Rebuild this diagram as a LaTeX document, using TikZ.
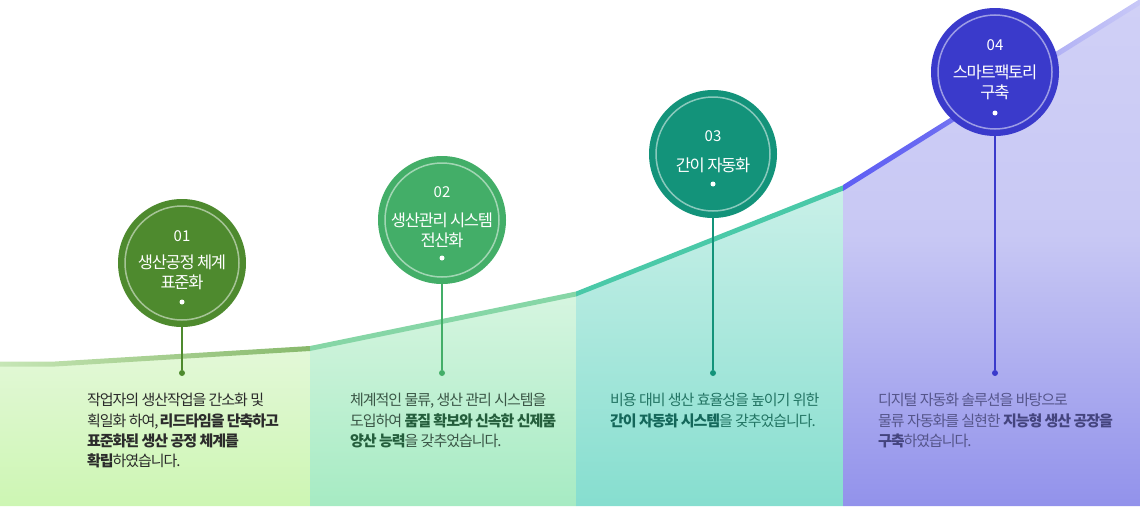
\documentclass[tikz,border=0pt]{standalone}
\usepackage{fontspec}
\setmainfont{Noto Sans CJK KR}[LetterSpace=-7]
\newfontfamily\numfont{Noto Sans CJK KR}
\newfontfamily\ttlfont{Noto Sans CJK KR}[LetterSpace=-8]
\definecolor{c1}{HTML}{4E8A2E}
\definecolor{c2}{HTML}{43AE68}
\definecolor{c3}{HTML}{13937A}
\definecolor{c4}{HTML}{3A3ACB}
\definecolor{s1t}{HTML}{E3F8D8}
\definecolor{s1b}{HTML}{CDF6B3}
\definecolor{s2t}{HTML}{D6F5E0}
\definecolor{s2b}{HTML}{A6EBC3}
\definecolor{s3t}{HTML}{C9F0E8}
\definecolor{s3b}{HTML}{86DECF}
\definecolor{s4t}{HTML}{D0D0F6}
\definecolor{s4m}{HTML}{C8C8F4}
\definecolor{s4b}{HTML}{9292EB}
\definecolor{l1a}{HTML}{C6E6B6}
\definecolor{l1b}{HTML}{88B96C}
\definecolor{l2}{HTML}{86D6A6}
\definecolor{l3}{HTML}{4AC9A8}
\definecolor{l4a}{HTML}{5F5FF4}
\definecolor{l4m}{HTML}{6A6AF2}
\definecolor{l4n}{HTML}{B4B4F5}
\definecolor{l4b}{HTML}{C8C8F7}
\definecolor{tx1}{HTML}{2B2B2B}
\definecolor{tx2}{HTML}{3A5646}
\definecolor{bx2}{HTML}{245E3C}
\definecolor{tx3}{HTML}{237564}
\definecolor{bx3}{HTML}{14675A}
\definecolor{tx4}{HTML}{55558A}
\definecolor{bx4}{HTML}{44447E}
\pgfdeclareverticalshading{sfour}{100bp}{color(0bp)=(s4b); color(25bp)=(s4b); color(52bp)=(s4m); color(75bp)=(s4t); color(100bp)=(s4t)}
\pgfdeclarehorizontalshading{lfour}{100bp}{color(0bp)=(l4a); color(25bp)=(l4a); color(40bp)=(l4m); color(62bp)=(l4n); color(75bp)=(l4b); color(100bp)=(l4b)}
\tikzset{
  circ/.style={circle, minimum size=128pt, inner sep=0pt},
  ring/.style={draw=white, draw opacity=0.5, line width=1.5pt},
  num/.style={anchor=base, text=white, inner sep=0pt, font=\numfont\fontsize{15}{15}\selectfont},
  ttl/.style={anchor=base, text=white, inner sep=0pt, font=\ttlfont\fontsize{16.5}{16.5}\selectfont},
  wdot/.style={circle, fill=white, minimum size=5pt, inner sep=0pt},
  edot/.style={circle, minimum size=6pt, inner sep=0pt},
  conn/.style={line width=1.2pt},
  desc/.style={anchor=base west, inner sep=0pt, font=\fontsize{15}{20}\selectfont}
}
\begin{document}
\begin{tikzpicture}[x=1pt,y=-1pt]
\useasboundingbox (0,0) rectangle (1140,506);
% fills
\shade[top color=s1t, bottom color=s1b] (0,364) -- (55,364) -- (310,348.5) -- (310,506) -- (0,506) -- cycle;
\shade[top color=s2t, bottom color=s2b] (310,348.5) -- (576,294) -- (576,506) -- (310,506) -- cycle;
\shade[top color=s3t, bottom color=s3b] (576,294) -- (843,188) -- (843,506) -- (576,506) -- cycle;
\shade[shading=sfour] (843,188) -- (1140,2) -- (1140,506) -- (843,506) -- cycle;
% top edge lines
\shade[left color=l1a, right color=l1b] (0,361.5) -- (55,361.5) -- (310,346) -- (310,351) -- (55,366.5) -- (0,366.5) -- cycle;
\fill[l2] (310,346) -- (576,291.5) -- (576,296.5) -- (310,351) -- cycle;
\fill[l3] (576,291.5) -- (843,185.3) -- (843,190.7) -- (576,296.5) -- cycle;
\shade[shading=lfour] (843,185) -- (1140,-1) -- (1140,5) -- (843,191) -- cycle;
% circles
\node[circ, fill=c1] (c1) at (182,263) {};
\node[circ, fill=c2] (c2) at (442,220) {};
\node[circ, fill=c3] (c3) at (713,154) {};
\node[circ, fill=c4] (c4) at (995,72) {};
\draw[ring] (c1.center) circle (57);
\draw[ring] (c2.center) circle (57);
\draw[ring] (c3.center) circle (57);
\draw[ring] (c4.center) circle (57);
% circle texts
\node[num] (n1) at (182,241.5) {01};
\node[ttl] (t1a) at (182,268) {생산공정 체계};
\node[ttl] (t1b) at (182,288) {표준화};
\node[wdot] (d1) at (182,302) {};
\node[num] (n2) at (442,197.5) {02};
\node[ttl] (t2a) at (442,226) {생산관리 시스템};
\node[ttl] (t2b) at (442,246) {전산화};
\node[wdot] (d2) at (442,258) {};
\node[num] (n3) at (713,141.5) {03};
\node[ttl] (t3a) at (713,171) {간이 자동화};
\node[wdot] (d3) at (713,184) {};
\node[num] (n4) at (995,50.5) {04};
\node[ttl] (t4a) at (995,78) {스마트팩토리};
\node[ttl] (t4b) at (995,98) {구축};
\node[wdot] (d4) at (995,113) {};
% end dots and connectors
\node[edot, fill=c1] (e1) at (182,373) {};
\node[edot, fill=c2] (e2) at (442,373) {};
\node[edot, fill=c3] (e3) at (713,373) {};
\node[edot, fill=c4] (e4) at (995,373) {};
\draw[conn, c1] (c1) -- (e1);
\draw[conn, c2] (c2) -- (e2);
\draw[conn, c3] (c3) -- (e3);
\draw[conn, c4] (c4) -- (e4);
% descriptions
\node[desc, text=tx1] (a1) at (87,405.5) {작업자의 생산작업을 간소화 및};
\node[desc, text=tx1] (a2) at (87,426) {획일화 하여, \textbf{리드타임을 단축하고}};
\node[desc, text=tx1] (a3) at (87,446.5) {\textbf{표준화된 생산 공정 체계를}};
\node[desc, text=tx1] (a4) at (87,466.5) {\textbf{확립}하였습니다.};
\node[desc, text=tx2] (b1) at (350,405.5) {체계적인 물류, 생산 관리 시스템을};
\node[desc, text=tx2] (b2) at (350,426) {도입하여 \textcolor{bx2}{\textbf{품질 확보와 신속한 신제품}}};
\node[desc, text=tx2] (b3) at (350,446.5) {\textcolor{bx2}{\textbf{양산 능력}}을 갖추었습니다.};
\node[desc, text=tx3] (g1) at (610,405.5) {비용 대비 생산 효율성을 높이기 위한};
\node[desc, text=tx3] (g2) at (610,426) {\textcolor{bx3}{\textbf{간이 자동화 시스템}}을 갖추었습니다.};
\node[desc, text=tx4] (h1) at (878,405.5) {디지털 자동화 솔루션을 바탕으로};
\node[desc, text=tx4] (h2) at (878,426) {물류 자동화를 실현한 \textcolor{bx4}{\textbf{지능형 생산 공장을}}};
\node[desc, text=tx4] (h3) at (878,446.5) {\textcolor{bx4}{\textbf{구축}}하였습니다.};
\end{tikzpicture}
\end{document}
